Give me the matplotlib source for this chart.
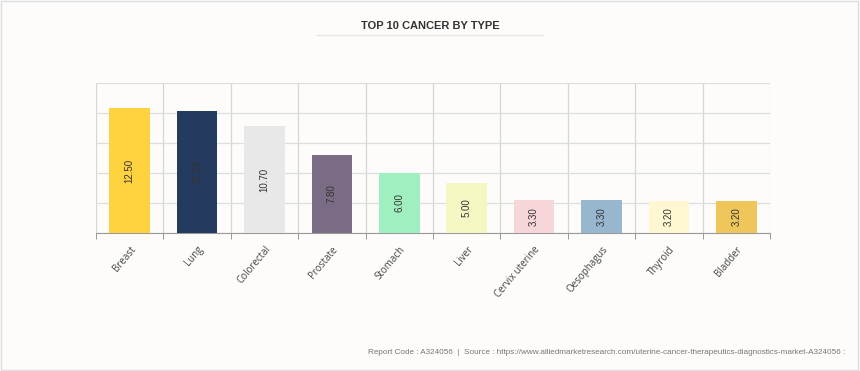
import matplotlib
matplotlib.use("Agg")
import matplotlib.pyplot as plt
from matplotlib.patches import Rectangle
from matplotlib.lines import Line2D

plt.rcParams["font.family"] = ["Liberation Sans", "DejaVu Sans"]

categories = ["Breast", "Lung", "Colorectal", "Prostate", "Stomach", "Liver",
              "Cervix uterine", "Oesophagus", "Thyroid", "Bladder"]
values = [12.50, 12.20, 10.70, 7.80, 6.00, 5.00, 3.30, 3.30, 3.20, 3.20]
colors = ["#FFD23F", "#243A5E", "#E8E8E8", "#7A6C84", "#A0EFC0",
          "#F5F7C3", "#F7D6DA", "#97B7CF", "#FFF6D2", "#EEC659"]
title = "TOP 10 CANCER BY TYPE"
footer = ("Report Code : A324056  |  Source : https://www.alliedmarketresearch.com/"
          "uterine-cancer-therapeutics-diagnostics-market-A324056 :")

bg = "#FDFCFB"
fig = plt.figure(figsize=(8.6, 3.71), dpi=100, facecolor=bg)
ax = fig.add_axes([96/860, 138/371, 674/860, 150/371])
ax.set_facecolor(bg)

x = list(range(len(categories)))
ax.bar(x, values, width=0.6, color=colors, zorder=3)
for xi, v in zip(x, values):
    ax.text(xi, v/2, f"{v:.2f}", rotation=90, ha="center", va="center",
            fontsize=7, color="#333333", zorder=4)

ax.set_xlim(-0.5, len(categories) - 0.5)
ax.set_ylim(0, 15)
ax.set_yticks([0, 3, 6, 9, 12, 15])
ax.yaxis.grid(True, color="#DDDDDD", linewidth=0.9, zorder=0)
for b in [i + 0.5 for i in range(-1, len(categories))]:
    ax.axvline(b, color="#D6D6D6", linewidth=0.9, zorder=0)
ax.tick_params(axis="y", length=0, labelleft=False)
ax.set_xticks(x)
ax.set_xticklabels(categories, rotation=50, ha="right", rotation_mode="anchor",
                   fontsize=7, color="#444444", family=["Open Sans", "DejaVu Sans"])
ax.tick_params(axis="x", length=0, pad=8)
ax.set_xticks([i + 0.5 for i in range(-1, len(categories))], minor=True)
ax.tick_params(axis="x", which="minor", length=4, color="#888888", direction="out")
for s in ["top", "right", "left"]:
    ax.spines[s].set_visible(False)
ax.spines["bottom"].set_color("#999999")

fig.text(430/860, 1 - 26/371, title, ha="center", va="center",
         fontsize=8, fontweight="bold", color="#333333")
fig.add_artist(Line2D([317/860, 543/860], [1 - 35/371, 1 - 35/371],
                      color="#E6E6E6", linewidth=1, transform=fig.transFigure))
fig.text(845/860, 1 - 353/371, footer, ha="right", va="center",
         fontsize=5.9, color="#777777")
fig.add_artist(Rectangle((0.001, 0.002), 0.997, 0.995, transform=fig.transFigure,
                         fill=False, edgecolor="#DDDDDD", linewidth=1))

fig.savefig("out.png", dpi=100, facecolor=bg)
